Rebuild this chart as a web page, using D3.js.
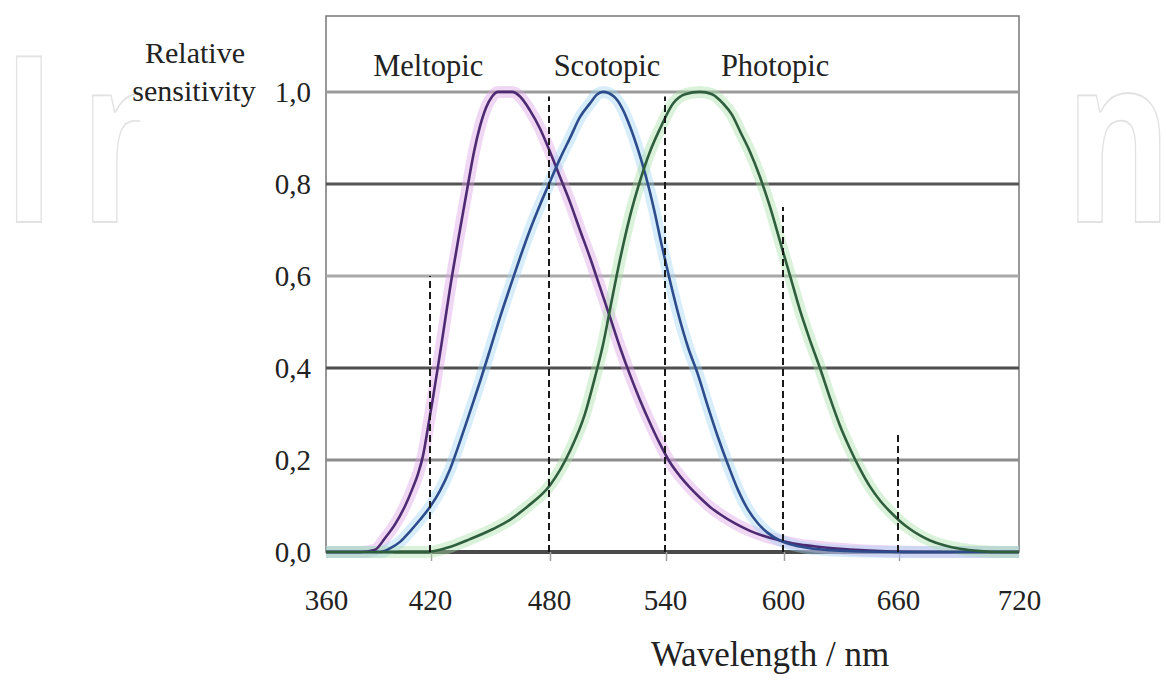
<!DOCTYPE html>
<html>
<head>
<meta charset="utf-8">
<script src="https://cdn.jsdelivr.net/npm/d3@7"></script>
<style>
  body { margin: 0; background: #fff; }
  svg { display: block; }
</style>
</head>
<body>
<div id="chart"></div>
<script>
// wavelength ticks (nm) and sensitivity ticks
let xTicks = [360, 420, 480, 540, 600, 660, 720];
let yTicks = [0, 0.2, 0.4, 0.6, 0.8, 1.0];

// dashed markers: wavelength and how high they go
let dashNm = [420, 480, 540, 600, 660];
let dashTop = [0.6, 0.99, 0.99, 0.75, 0.26];

// curve names and where the name sits (nm)
let names = ["Meltopic", "Scotopic", "Photopic"];
let nameNm = [419, 510, 596];

// [wavelength, relative sensitivity]
let meltopic = [
  [360, 0], [380, 0], [388.3, 0.005], [394, 0.03], [399.8, 0.06], [405.6, 0.1],
  [409.6, 0.135], [413.1, 0.17], [416, 0.21], [418.8, 0.27], [421.5, 0.335],
  [425, 0.43], [431.1, 0.6], [435.1, 0.7], [439.2, 0.8], [442.2, 0.87],
  [445.2, 0.925], [448.2, 0.965], [451.3, 0.99], [454.3, 1.0], [461.4, 1.0],
  [465.4, 0.99], [470.4, 0.96], [475.5, 0.92], [480.5, 0.87], [485.7, 0.815],
  [490.9, 0.76], [496, 0.7], [501.2, 0.64], [506.4, 0.575], [511.6, 0.51],
  [516.7, 0.445], [521.9, 0.385], [527.1, 0.33], [532.3, 0.28], [537.4, 0.235],
  [542.5, 0.195], [547.6, 0.165], [552.7, 0.14], [557.8, 0.118], [562.9, 0.098],
  [568, 0.082], [575.6, 0.062], [583.2, 0.046], [590.8, 0.034], [598.5, 0.025],
  [608.9, 0.016], [619.3, 0.011], [629.7, 0.007], [640.2, 0.004], [650.6, 0.002],
  [671.5, 0], [720, 0]
];
let scotopic = [
  [360, 0], [391.2, 0], [396.9, 0.008], [402.7, 0.022], [408.5, 0.045], [414.2, 0.07],
  [420, 0.098], [425, 0.133], [430.1, 0.18], [435.1, 0.24], [440.2, 0.305],
  [445.2, 0.37], [450.3, 0.44], [455.3, 0.51], [460.3, 0.575], [465.4, 0.64],
  [470.4, 0.7], [475.5, 0.755], [480.5, 0.805], [485.7, 0.855], [490.9, 0.9],
  [496, 0.945], [501.2, 0.975], [505, 0.995], [507.9, 1.0], [513.6, 0.99],
  [517.8, 0.965], [521.9, 0.925], [526, 0.875], [530.2, 0.815], [534.3, 0.745],
  [538.4, 0.665], [542.5, 0.59], [546.6, 0.52], [551.7, 0.445], [556.8, 0.385],
  [561.9, 0.315], [566.9, 0.25], [572, 0.19], [577.1, 0.135], [582.2, 0.092],
  [587.3, 0.062], [592.4, 0.041], [598.5, 0.025], [606.3, 0.014], [614.1, 0.008],
  [624.5, 0.004], [640.2, 0.001], [661, 0], [720, 0]
];
let photopic = [
  [360, 0], [418.3, 0], [428.6, 0.009], [440.2, 0.028], [451.8, 0.05], [460.3, 0.07],
  [468.9, 0.098], [480.5, 0.145], [490.9, 0.22], [498.6, 0.3], [503.8, 0.38],
  [507.9, 0.45], [512.6, 0.55], [516.7, 0.635], [521.9, 0.73], [526.6, 0.8],
  [532.2, 0.87], [537.4, 0.92], [544.1, 0.975], [550.2, 0.995], [557.8, 1.0],
  [563.9, 0.995], [569.5, 0.975], [574.1, 0.95], [578.1, 0.915], [583.2, 0.87],
  [588.3, 0.815], [593.4, 0.75], [598.5, 0.675], [603.7, 0.6], [608.9, 0.525],
  [614.1, 0.46], [619.3, 0.4], [624.5, 0.335], [629.7, 0.275], [634.9, 0.225],
  [640.2, 0.18], [645.4, 0.142], [650.6, 0.112], [655.8, 0.088], [661, 0.067],
  [665.9, 0.05], [670.9, 0.036], [675.9, 0.025], [683.3, 0.014], [690.7, 0.007],
  [700.7, 0.002], [710.6, 0], [720, 0]
];

let series = [meltopic, scotopic, photopic];
let coreColor = ["#4e2a72", "#2c4c8c", "#2f5e3d"];
let haloColor = ["#dca0e4", "#9fd4f2", "#a6dea6"];
let gridColor = ["#4a4a4a", "#8c8c8c", "#4f4f4f", "#a9a9a9", "#555555", "#9b9b9b"];

let width = 1166;
let height = 680;

let svg = d3.select("#chart")
  .append("svg")
  .attr("width", width)
  .attr("height", height);

// watermark behind the figure (squeezed horizontally, letters spread out)
let wmScale = 0.7;
svg.append("g")
  .attr("transform", "scale(" + wmScale + ",1)")
  .append("text")
  .attr("x", 2 / wmScale)
  .attr("y", 222)
  .attr("font-family", "Open Sans")
  .attr("font-weight", 700)
  .attr("font-size", 232)
  .attr("textLength", 1170 / wmScale)
  .attr("lengthAdjust", "spacing")
  .attr("fill", "none")
  .attr("stroke", "#e2e2e2")
  .attr("stroke-width", 1.8)
  .text("IntechOpen");

svg.append("rect")
  .attr("x", 140).attr("y", 0)
  .attr("width", 902).attr("height", height)
  .attr("fill", "#fff");

// scales (the printed axis is not perfectly even, so piecewise)
let xScale = d3.scaleLinear()
  .domain(xTicks)
  .range([326, 430, 549, 665, 783, 898, 1019]);

let yScale = d3.scaleLinear()
  .domain([0, 1.165])
  .range([552, 16]);

let comma = d3.formatLocale({decimal: ",", thousands: ".", grouping: [3], currency: ["", ""]}).format(".1f");

// plot frame
svg.append("rect")
  .attr("x", xScale(360))
  .attr("y", yScale(1.165))
  .attr("width", xScale(720) - xScale(360))
  .attr("height", yScale(0) - yScale(1.165))
  .attr("fill", "#fff")
  .attr("stroke", "#777")
  .attr("stroke-width", 1.5);

// horizontal grid
svg.append("g")
  .selectAll("line")
  .data(yTicks)
  .enter()
  .append("line")
  .attr("x1", xScale(360))
  .attr("x2", xScale(720))
  .attr("y1", function(d) { return yScale(d); })
  .attr("y2", function(d) { return yScale(d); })
  .attr("stroke", function(d, i) { return gridColor[i]; })
  .attr("stroke-width", function(d, i) { return i == 0 ? 4 : 3; });

// small ticks under the baseline
svg.append("g")
  .selectAll("line")
  .data(dashNm)
  .enter()
  .append("line")
  .attr("x1", function(d) { return xScale(d) + 1.5; })
  .attr("x2", function(d) { return xScale(d) + 1.5; })
  .attr("y1", yScale(0))
  .attr("y2", yScale(0) + 9)
  .attr("stroke", "#a0a0a0")
  .attr("stroke-width", 1.5);

// curves: soft coloured halo, dark core
let line = d3.line()
  .x(function(d) { return xScale(d[0]); })
  .y(function(d) { return yScale(d[1]); })
  .curve(d3.curveMonotoneX);

svg.append("g")
  .selectAll("path")
  .data(series)
  .enter()
  .append("path")
  .attr("d", line)
  .attr("fill", "none")
  .attr("stroke", function(d, i) { return haloColor[i]; })
  .attr("stroke-width", 12)
  .attr("stroke-opacity", 0.42)
  .attr("stroke-linejoin", "round");

svg.append("g")
  .selectAll("path")
  .data(series)
  .enter()
  .append("path")
  .attr("d", line)
  .attr("fill", "none")
  .attr("stroke", function(d, i) { return coreColor[i]; })
  .attr("stroke-width", 2.6)
  .attr("stroke-linejoin", "round");

// dashed markers
svg.append("g")
  .selectAll("line")
  .data(dashNm)
  .enter()
  .append("line")
  .attr("x1", function(d) { return xScale(d); })
  .attr("x2", function(d) { return xScale(d); })
  .attr("y1", yScale(0))
  .attr("y2", function(d, i) { return yScale(dashTop[i]); })
  .attr("stroke", "#1a1a1a")
  .attr("stroke-width", 2)
  .attr("stroke-dasharray", "7,4");

// axes (labels only)
let axisx = d3.axisBottom(xScale).tickValues(xTicks).tickSize(0).tickPadding(37);
let axisy = d3.axisLeft(yScale).tickValues(yTicks).tickSize(0).tickPadding(15).tickFormat(comma);

let gx = svg.append("g")
  .attr("transform", "translate(0," + yScale(0) + ")")
  .call(axisx);
let gy = svg.append("g")
  .attr("transform", "translate(" + xScale(360) + ",0)")
  .call(axisy);

[gx, gy].forEach(function(g) {
  g.select(".domain").remove();
  g.selectAll("text")
    .attr("fill", "#222")
    .attr("font-family", "Liberation Serif")
    .attr("font-size", "29px");
});

// titles
let serif = function(sel, size) {
  return sel.attr("fill", "#222")
    .attr("font-family", "Liberation Serif")
    .attr("font-size", size + "px");
};

serif(svg.append("text"), 30)
  .attr("x", 195).attr("y", 63)
  .attr("text-anchor", "middle")
  .text("Relative");
serif(svg.append("text"), 30)
  .attr("x", 194).attr("y", 101)
  .attr("text-anchor", "middle")
  .text("sensitivity");

serif(svg.append("g").selectAll("text")
  .data(names)
  .enter()
  .append("text"), 30.5)
  .attr("x", function(d, i) { return xScale(nameNm[i]); })
  .attr("y", yScale(1.035))
  .attr("text-anchor", "middle")
  .text(function(d) { return d; });

serif(svg.append("text"), 35)
  .attr("x", 770).attr("y", 666)
  .attr("text-anchor", "middle")
  .text("Wavelength / nm");
</script>
</body>
</html>
